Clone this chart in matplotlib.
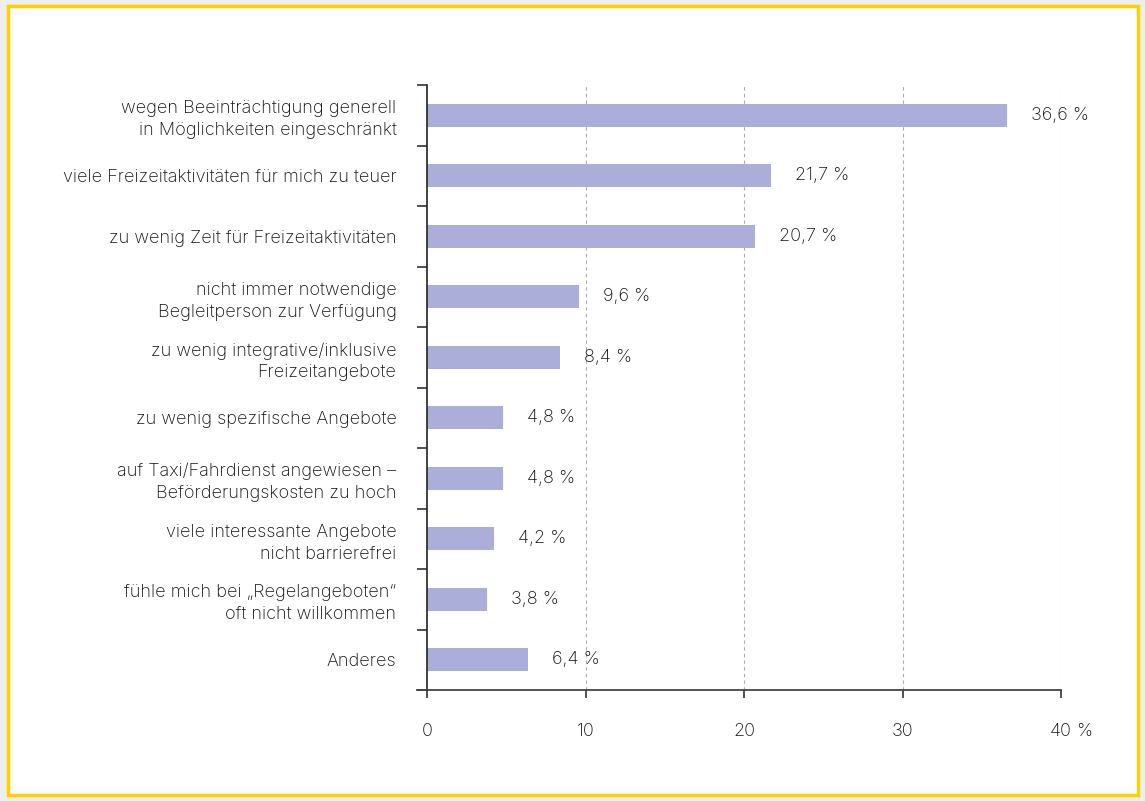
import matplotlib.pyplot as plt
import numpy as np
from matplotlib.patches import Rectangle

plt.rcParams["font.family"] = ["Inter", "DejaVu Sans"]
plt.rcParams["font.weight"] = "light"
plt.rcParams["text.color"] = "#111111"

# data
labels = [
    "wegen Beeinträchtigung generell\nin Möglichkeiten eingeschränkt",
    "viele Freizeitaktivitäten für mich zu teuer",
    "zu wenig Zeit für Freizeitaktivitäten",
    "nicht immer notwendige\nBegleitperson zur Verfügung",
    "zu wenig integrative/inklusive\nFreizeitangebote",
    "zu wenig spezifische Angebote",
    "auf Taxi/Fahrdienst angewiesen –\nBeförderungskosten zu hoch",
    "viele interessante Angebote\nnicht barrierefrei",
    "fühle mich bei „Regelangeboten“\noft nicht willkommen",
    "Anderes",
]
values = [36.6, 21.7, 20.7, 9.6, 8.4, 4.8, 4.8, 4.2, 3.8, 6.4]
xticks = [0, 10, 20, 30, 40]
xticklabels = ["0", "10", "20", "30", "40"]

FS = 13
TXT = "#111111"

fig = plt.figure(figsize=(11.45, 8.01), dpi=100)
fig.patch.set_facecolor("#eeeeec")
# white panel with yellow frame
fig.patches.append(Rectangle((8 / 1145, 6 / 801), 1130 / 1145, 789 / 801,
                             transform=fig.transFigure, facecolor="white",
                             edgecolor="#ffd100", linewidth=2.5, zorder=-5))

ax = fig.add_axes([427 / 1145, 111 / 801, 634 / 1145, 605 / 801])
ax.set_facecolor("none")

n = len(values)
y = np.arange(n)
ax.barh(y, values, height=0.38, color="#aaaed9", zorder=2)
ax.set_ylim(n - 0.5, -0.5)
ax.set_xlim(0, 40)

for yi, v in zip(y, values):
    ax.annotate(f"{v:.1f} %".replace(".", ","), xy=(v, yi), xytext=(24, 0),
                textcoords="offset pixels", ha="left", va="center",
                fontsize=FS, color=TXT)

# grid
for xt in xticks[1:]:
    ax.axvline(xt, color="#aaaaaa", linestyle=(0, (3, 3)), linewidth=0.8, zorder=1)

ax.set_yticks(y)
ax.set_yticklabels(labels, fontsize=FS, linespacing=1.38)
ax.tick_params(axis="y", which="major", length=0, pad=22, labelcolor=TXT)
ax.set_yticks(np.arange(-0.5, n, 1.0), minor=True)
ax.tick_params(axis="y", which="minor", length=7, width=1.1, color="#222222",
               direction="out")

ax.set_xticks(xticks)
ax.set_xticklabels(xticklabels, fontsize=FS)
ax.tick_params(axis="x", length=6, width=1.1, color="#222222", pad=17.5,
               labelcolor=TXT)
ax.annotate("%", xy=(40, 0), xycoords=("data", "axes fraction"),
            xytext=(15, -42), textcoords="offset pixels", ha="left",
            va="center", fontsize=FS, color=TXT)

for s in ["top", "right"]:
    ax.spines[s].set_visible(False)
ax.spines["left"].set_color("#222222")
ax.spines["left"].set_linewidth(1.2)
ax.spines["bottom"].set_visible(False)
ax.plot([-10 / 634, 1], [0, 0], transform=ax.transAxes, color="#444444",
        linewidth=1.3, clip_on=False, zorder=3)

fig.savefig("out.png", dpi=100, facecolor=fig.get_facecolor())
